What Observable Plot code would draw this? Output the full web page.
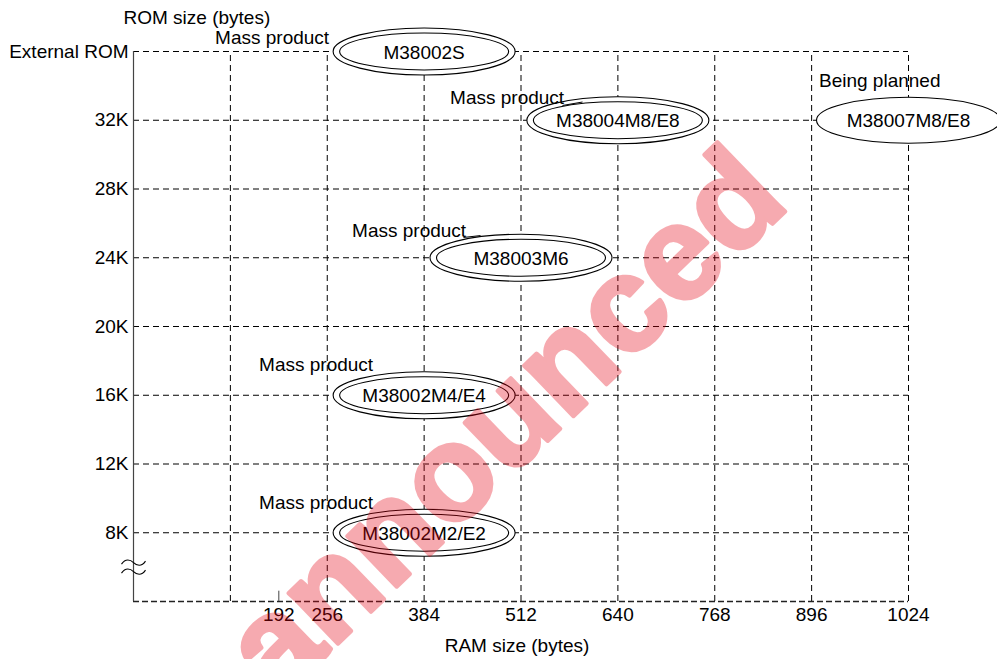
<!DOCTYPE html>
<html>
<head>
<meta charset="utf-8">
<script src="https://cdn.jsdelivr.net/npm/d3@7"></script>
<script src="https://cdn.jsdelivr.net/npm/@observablehq/plot@0.6"></script>
<style>
  html, body { margin: 0; padding: 0; background: #fff; }
  #chart svg { display: block; }
</style>
</head>
<body>
<div id="chart"></div>
<script>
// ---- axis data ----
const ramDomain = [0, 1024];
const romDomain = [4, 36];
const ramTicks = [192, 256, 384, 512, 640, 768, 896, 1024];
const ramGrid = [128, 256, 384, 512, 640, 768, 896, 1024];
const romTicks = [8, 12, 16, 20, 24, 28, 32, 36];
const romTickLabels = ["8K", "12K", "16K", "20K", "24K", "28K", "32K", "External ROM"];
const ramMinorTick = [192];
const romBreakAt = [6];

// ---- products ----
const products = ["M38002S", "M38004M8/E8", "M38007M8/E8", "M38003M6", "M38002M4/E4", "M38002M2/E2"];
const productRam = [384, 640, 1024, 512, 384, 384];
const productRom = [36, 32, 32, 24, 16, 8];
const productStatus = ["Mass product", "Mass product", "Being planned", "Mass product", "Mass product", "Mass product"];
// status label anchors (left end)
const statusRam = [107.8, 418.3, 905.7, 288.8, 165.9, 165.9];
const statusRom = [36.81, 33.28, 34.3, 25.59, 17.79, 9.76];

// leader lines from the status label to the oval
const leaderX1 = [566.8, 436.0];
const leaderY1 = [32.86, 25.18];
const leaderX2 = [593.3, 458.5];
const leaderY2 = [33.06, 25.29];

// watermark
const watermarkText = ["announced"];
const watermarkRam = [530];
const watermarkRom = [12.6];

const rows = products.map((name, i) => ({
  name, ram: productRam[i], rom: productRom[i], status: productStatus[i],
  sx: statusRam[i], sy: statusRom[i]
}));
const mass = rows.filter(d => d.status === "Mass product");
const planned = rows.filter(d => d.status !== "Mass product");
const leaders = leaderX1.map((x1, i) => ({x1, y1: leaderY1[i], x2: leaderX2[i], y2: leaderY2[i]}));
const watermark = watermarkText.map((t, i) => ({t, x: watermarkRam[i], y: watermarkRom[i]}));

function ellipse(rx, ry) {
  const k = 0.5522847498;
  return {
    draw(ctx) {
      ctx.moveTo(rx, 0);
      ctx.bezierCurveTo(rx, ry * k, rx * k, ry, 0, ry);
      ctx.bezierCurveTo(-rx * k, ry, -rx, ry * k, -rx, 0);
      ctx.bezierCurveTo(-rx, -ry * k, -rx * k, -ry, 0, -ry);
      ctx.bezierCurveTo(rx * k, -ry, rx, -ry * k, rx, 0);
      ctx.closePath();
    }
  };
}

// axis-break symbol: two stacked tildes
const breakSymbol = {
  draw(ctx) {
    for (const y of [-4.5, 4.5]) {
      ctx.moveTo(-12, y + 1.5);
      ctx.bezierCurveTo(-8, y - 4.5, -3, y - 3, 0, y);
      ctx.bezierCurveTo(3, y + 3, 8, y + 4.5, 12, y - 1.5);
    }
  }
};

const font = "'Liberation Sans', Arial, Helvetica, sans-serif";

const plot = Plot.plot({
  width: 997,
  height: 659,
  marginLeft: 133,
  marginRight: 89,
  marginTop: 51,
  marginBottom: 58,
  x: {domain: ramDomain, axis: null},
  y: {domain: romDomain, axis: null},
  style: {fontFamily: font, fontSize: "19px", color: "#000", background: "#fff"},
  marks: [
    // grid
    Plot.ruleX(ramGrid, {y1: romDomain[0], y2: romDomain[1], stroke: "#000", strokeWidth: 1, strokeDasharray: "6,4"}),
    Plot.ruleY(romTicks, {x1: ramDomain[0], x2: ramDomain[1], stroke: "#000", strokeWidth: 1, strokeDasharray: "6,4"}),
    Plot.ruleY([romDomain[0]], {x1: ramDomain[0], x2: ramDomain[1], stroke: "#222", strokeWidth: 1.6, strokeDasharray: "6,3"}),
    Plot.ruleX([ramDomain[0]], {y1: romDomain[0], y2: romDomain[1], stroke: "#444", strokeWidth: 1.2}),
    Plot.ruleX(ramMinorTick, {y1: romDomain[0], y2: romDomain[0] + 0.6, stroke: "#444"}),
    // axes
    Plot.axisX(ramTicks, {tickSize: 0, tickPadding: 6, fontSize: 19, label: null, tickFormat: d => String(d)}),
    Plot.axisY(romTicks, {tickSize: 0, tickPadding: 5, fontSize: 19, label: null,
      tickFormat: d => romTickLabels[romTicks.indexOf(d)]}),
    Plot.dot(romBreakAt, {x: ramDomain[0], y: d => d, symbol: breakSymbol, stroke: "#000", fill: "none", strokeWidth: 1.1}),
    // ovals
    Plot.dot(mass, {x: "ram", y: "rom", symbol: ellipse(91, 23.5), stroke: "#000", fill: "#fff", strokeWidth: 1.1}),
    Plot.dot(mass, {x: "ram", y: "rom", symbol: ellipse(84.5, 18.5), stroke: "#000", fill: "none", strokeWidth: 1.1}),
    Plot.dot(planned, {x: "ram", y: "rom", symbol: ellipse(92, 23), stroke: "#000", fill: "#fff", strokeWidth: 1.1}),
    Plot.text(rows, {x: "ram", y: "rom", text: "name", fontSize: 19, dy: 1}),
    Plot.text(rows, {x: "sx", y: "sy", text: "status", fontSize: 19, textAnchor: "start"}),
    Plot.link(leaders, {x1: "x1", y1: "y1", x2: "x2", y2: "y2", stroke: "#000", strokeWidth: 1}),
    // axis titles
    Plot.text(["ROM size (bytes)"], {frameAnchor: "top-left", dx: -10, dy: -34, textAnchor: "start", lineAnchor: "middle", fontSize: 19}),
    Plot.text(["RAM size (bytes)"], {frameAnchor: "bottom", dx: -4, dy: 44, lineAnchor: "middle", fontSize: 19}),
    // watermark
    Plot.text(watermark, {x: "x", y: "y", text: "t", rotate: -44, fontSize: 134, fontWeight: "bold",
      fontFamily: font, textAnchor: "middle", lineAnchor: "bottom",
      fill: "#e60012", stroke: "#e60012", strokeWidth: 4, strokeLinejoin: "round", opacity: 0.33})
  ]
});

document.getElementById("chart").appendChild(plot);
</script>
</body>
</html>
